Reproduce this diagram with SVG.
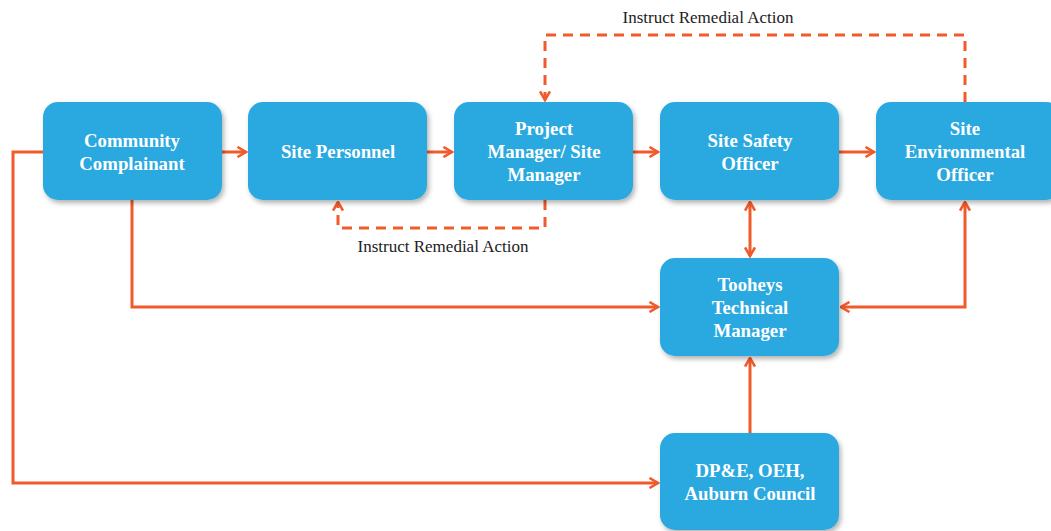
<svg xmlns="http://www.w3.org/2000/svg" width="1051" height="531" viewBox="0 0 1051 531">
<defs>
<filter id="sh" x="-10%" y="-10%" width="130%" height="130%">
<feDropShadow dx="2" dy="3" stdDeviation="2.5" flood-color="#000" flood-opacity="0.3"/>
</filter>
<marker id="ah" viewBox="0 0 12 12" refX="10.5" refY="6" markerWidth="12" markerHeight="12" markerUnits="userSpaceOnUse" orient="auto-start-reverse">
<path d="M2,1 L10.5,6 L2,11" fill="none" stroke="#f15a2b" stroke-width="2.6" stroke-linejoin="miter"/>
</marker>
</defs>
<style>
.box{fill:#29a9e1;filter:url(#sh)}
.t{font-family:"Liberation Serif","Times New Roman",serif;font-weight:bold;font-size:18.8px;fill:#fff;text-anchor:middle}
.lab{font-family:"Liberation Serif","Times New Roman",serif;font-size:17px;fill:#222;text-anchor:middle}
.c{fill:none;stroke:#f15a2b;stroke-width:3}
.d{fill:none;stroke:#f15a2b;stroke-width:3;stroke-dasharray:10,7}
</style>
<rect width="1051" height="531" fill="#fff"/>
<g id="connectors">
<path class="c" d="M43,152 H13 V483 H658" marker-end="url(#ah)"/>
<path class="c" d="M222,152 H246" marker-end="url(#ah)"/>
<path class="c" d="M427,152 H452" marker-end="url(#ah)"/>
<path class="c" d="M633,152 H658" marker-end="url(#ah)"/>
<path class="c" d="M839,152 H874" marker-end="url(#ah)"/>
<path class="c" d="M132,200 V307 H658" marker-end="url(#ah)"/>
<path class="c" d="M750,202 V256" marker-start="url(#ah)" marker-end="url(#ah)"/>
<path class="c" d="M841,307 H965 V202" marker-start="url(#ah)" marker-end="url(#ah)"/>
<path class="c" d="M750,433 V358" marker-end="url(#ah)"/>
<path class="d" d="M545,200 V228 H338 V202" marker-end="url(#ah)"/>
<path class="d" d="M965,102 V35 H545 V100" marker-end="url(#ah)"/>
</g>
<g id="label-bottom"><text class="lab" x="443" y="252">Instruct Remedial Action</text></g>
<g id="label-top"><text class="lab" x="708" y="23">Instruct Remedial Action</text></g>
<g id="community-complainant">
<rect class="box" x="43" y="102" width="179" height="98" rx="15"/>
<text class="t" x="132" y="147">Community</text>
<text class="t" x="132" y="170">Complainant</text>
</g>
<g id="site-personnel">
<rect class="box" x="248" y="102" width="179" height="98" rx="15"/>
<text class="t" x="338" y="158">Site Personnel</text>
</g>
<g id="project-manager">
<rect class="box" x="454" y="102" width="179" height="98" rx="15"/>
<text class="t" x="544" y="135">Project</text>
<text class="t" x="544" y="158">Manager/ Site</text>
<text class="t" x="544" y="181">Manager</text>
</g>
<g id="site-safety-officer">
<rect class="box" x="660" y="102" width="179" height="98" rx="15"/>
<text class="t" x="750" y="147">Site Safety</text>
<text class="t" x="750" y="170">Officer</text>
</g>
<g id="site-environmental-officer">
<rect class="box" x="876" y="102" width="185" height="98" rx="15"/>
<text class="t" x="965" y="135">Site</text>
<text class="t" x="965" y="158">Environmental</text>
<text class="t" x="965" y="181">Officer</text>
</g>
<g id="tooheys-technical-manager">
<rect class="box" x="660" y="258" width="179" height="98" rx="15"/>
<text class="t" x="750" y="291">Tooheys</text>
<text class="t" x="750" y="314">Technical</text>
<text class="t" x="750" y="337">Manager</text>
</g>
<g id="dpe-oeh-auburn">
<rect class="box" x="660" y="433" width="179" height="97" rx="15"/>
<text class="t" x="750" y="477">DP&amp;E, OEH,</text>
<text class="t" x="750" y="500">Auburn Council</text>
</g>
</svg>
